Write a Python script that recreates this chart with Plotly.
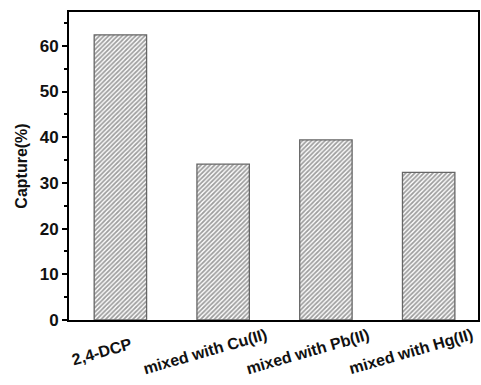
import plotly.graph_objects as go

categories = ["2,4-DCP", "mixed with Cu(II)", "mixed with Pb(II)", "mixed with Hg(II)"]
capture = [62.4, 34.1, 39.4, 32.3]
y_ticks = [0, 10, 20, 30, 40, 50, 60]
y_title = "Capture(%)"

FONT = "Liberation Sans, Arial, sans-serif"
x_idx = list(range(len(categories)))

fig = go.Figure()
fig.add_trace(go.Bar(
    x=x_idx, y=capture, width=0.51,
    marker=dict(
        color="white",
        line=dict(color="#666666", width=1.3),
        pattern=dict(shape="/", size=3.2, solidity=0.55, fgcolor="#3c3c3c", bgcolor="white"),
    ),
    showlegend=False,
    hoverinfo="skip",
))

for i, c in enumerate(categories):
    fig.add_annotation(
        x=i, y=0, xref="x", yref="paper", text=f"<b>{c}</b>",
        showarrow=False, textangle=-16, xanchor="center", yanchor="middle",
        xshift=-18, yshift=-31,
        font=dict(family=FONT, size=16, color="#111111"),
    )

fig.update_layout(
    width=481, height=385,
    margin=dict(l=69, r=1, t=12, b=65),
    plot_bgcolor="white", paper_bgcolor="white",
    font=dict(family=FONT, size=16, color="#111111"),
    bargap=0.49,
)
fig.update_xaxes(
    range=[-0.5, 3.48], showticklabels=False, ticks="",
    showline=True, linecolor="black", linewidth=2, mirror=True,
    showgrid=False, zeroline=False,
)
fig.update_yaxes(
    range=[0, 67.4], tickvals=y_ticks, ticktext=[f"<b>{v}</b>" for v in y_ticks],
    ticks="outside", ticklen=5, tickwidth=1.5, tickcolor="black",
    minor=dict(tickvals=[5, 15, 25, 35, 45, 55, 65], ticks="outside", ticklen=3, tickwidth=1.5, tickcolor="black"),
    showline=True, linecolor="black", linewidth=2, mirror=True,
    showgrid=False, zeroline=False,
    tickfont=dict(family=FONT, size=17, color="#111111"),
    title=dict(text=f"<b>{y_title}</b>", font=dict(family=FONT, size=16, color="#111111"), standoff=8),
)

fig.write_html(
    "out.html",
    config={"displayModeBar": False},
    post_script="document.body.style.margin='0';document.body.style.overflow='hidden';",
)
